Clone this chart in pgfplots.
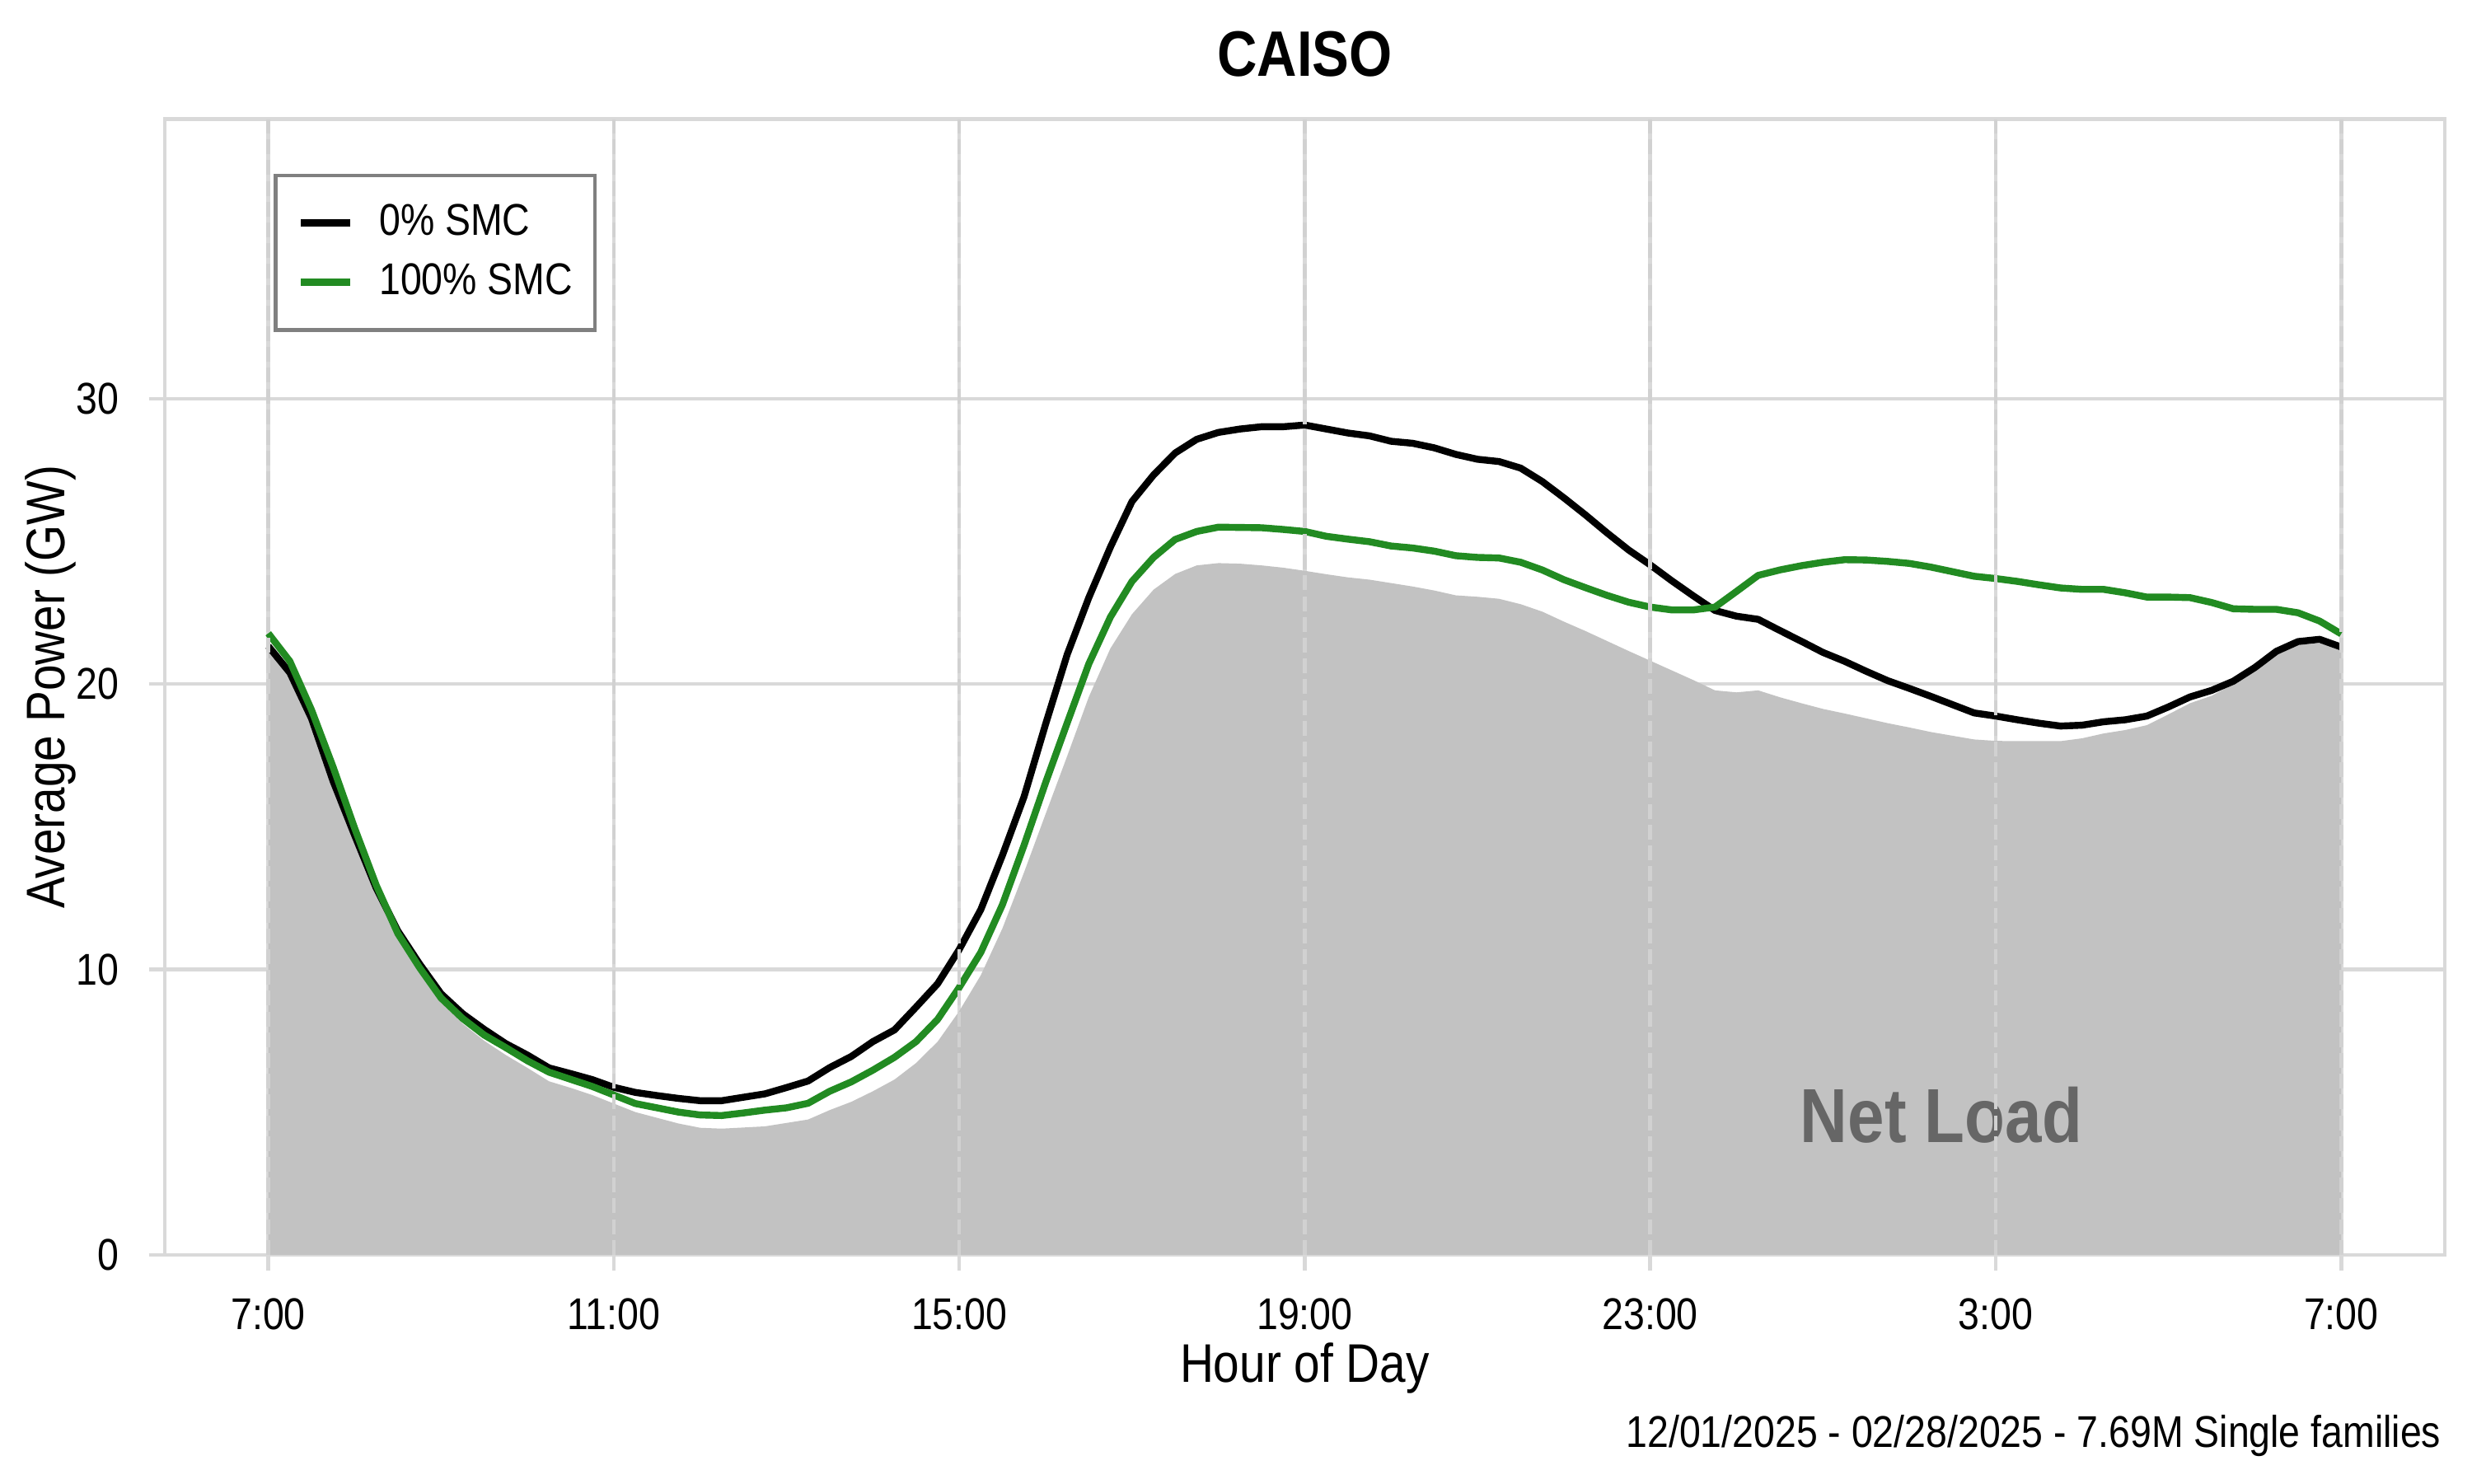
\documentclass[border=0pt]{standalone}
\usepackage{pgfplots}
\pgfplotsset{compat=1.18}
\usepackage{pgfplotstable}
\usepackage{fontspec}
\setmainfont{Liberation Sans}[FakeStretch=0.86]
\definecolor{smcgreen}{HTML}{228B22}
\definecolor{gridgray}{HTML}{D9D9D9}
\definecolor{fillgray}{HTML}{C2C2C2}
\definecolor{labelgray}{HTML}{666666}

\pgfplotstableread{
h v
0 21.2
0.25 20.3
0.5 18.7
0.75 16.6
1.0 14.6
1.25 12.7
1.5 11.1
1.75 9.9
2.0 8.85
2.25 8.1
2.5 7.5
2.75 7.0
3.0 6.55
3.25 6.08
3.5 5.85
3.75 5.6
4.0 5.3
4.25 5.0
4.5 4.8
4.75 4.6
5.0 4.45
5.25 4.42
5.5 4.46
5.75 4.5
6.0 4.62
6.25 4.74
6.5 5.07
6.75 5.36
7.0 5.73
7.25 6.14
7.5 6.72
7.75 7.47
8.0 8.54
8.25 9.8
8.5 11.44
8.75 13.4
9.0 15.45
9.25 17.48
9.5 19.55
9.75 21.25
10.0 22.45
10.25 23.31
10.5 23.86
10.75 24.16
11.0 24.24
11.25 24.22
11.5 24.16
11.75 24.08
12.0 23.97
12.25 23.85
12.5 23.74
12.75 23.66
13.0 23.54
13.25 23.42
13.5 23.28
13.75 23.11
14.0 23.06
14.25 22.99
14.5 22.8
14.75 22.54
15.0 22.19
15.25 21.86
15.5 21.51
15.75 21.16
16.0 20.82
16.25 20.48
16.5 20.14
16.75 19.78
17.0 19.71
17.25 19.78
17.5 19.54
17.75 19.33
18.0 19.13
18.25 18.97
18.5 18.8
18.75 18.63
19.0 18.48
19.25 18.32
19.5 18.19
19.75 18.06
20.0 18.01
20.25 18.0
20.5 18.0
20.75 18.0
21.0 18.1
21.25 18.27
21.5 18.39
21.75 18.56
22.0 18.94
22.25 19.33
22.5 19.59
22.75 20.0
23.0 20.53
23.25 21.06
23.5 21.37
23.75 21.44
24.0 21.2
}\netload

\pgfplotstableread{
h v
0 21.33
0.25 20.4
0.5 18.8
0.75 16.6
1.0 14.7
1.25 12.85
1.5 11.35
1.75 10.2
2.0 9.15
2.25 8.45
2.5 7.9
2.75 7.4
3.0 7.0
3.25 6.55
3.5 6.35
3.75 6.14
4.0 5.87
4.25 5.69
4.5 5.58
4.75 5.48
5.0 5.4
5.25 5.4
5.5 5.52
5.75 5.64
6.0 5.86
6.25 6.09
6.5 6.56
6.75 6.95
7.0 7.47
7.25 7.88
7.5 8.68
7.75 9.5
8.0 10.7
8.25 12.1
8.5 14.0
8.75 16.05
9.0 18.6
9.25 21.04
9.5 23.03
9.75 24.8
10.0 26.4
10.25 27.33
10.5 28.1
10.75 28.58
11.0 28.82
11.25 28.94
11.5 29.02
11.75 29.02
12.0 29.08
12.25 28.94
12.5 28.8
12.75 28.7
13.0 28.51
13.25 28.44
13.5 28.28
13.75 28.05
14.0 27.88
14.25 27.8
14.5 27.57
14.75 27.1
15.0 26.53
15.25 25.93
15.5 25.3
15.75 24.7
16.0 24.18
16.25 23.62
16.5 23.09
16.75 22.58
17.0 22.38
17.25 22.27
17.5 21.88
17.75 21.5
18.0 21.11
18.25 20.8
18.5 20.45
18.75 20.12
19.0 19.85
19.25 19.57
19.5 19.28
19.75 18.99
20.0 18.88
20.25 18.75
20.5 18.63
20.75 18.53
21.0 18.56
21.25 18.68
21.5 18.75
21.75 18.88
22.0 19.2
22.25 19.55
22.5 19.78
22.75 20.1
23.0 20.58
23.25 21.15
23.5 21.49
23.75 21.57
24.0 21.3
}\smczero

\pgfplotstableread{
h v
0 21.78
0.25 20.8
0.5 19.1
0.75 17.1
1.0 14.95
1.25 12.95
1.5 11.26
1.75 10.07
2.0 9.0
2.25 8.28
2.5 7.7
2.75 7.26
3.0 6.8
3.25 6.4
3.5 6.15
3.75 5.9
4.0 5.6
4.25 5.3
4.5 5.15
4.75 5.0
5.0 4.9
5.25 4.88
5.5 4.97
5.75 5.07
6.0 5.15
6.25 5.31
6.5 5.73
6.75 6.06
7.0 6.47
7.25 6.92
7.5 7.47
7.75 8.25
8.0 9.37
8.25 10.6
8.5 12.27
8.75 14.35
9.0 16.55
9.25 18.64
9.5 20.71
9.75 22.35
10.0 23.6
10.25 24.44
10.5 25.07
10.75 25.35
11.0 25.5
11.25 25.49
11.5 25.48
11.75 25.42
12.0 25.35
12.25 25.18
12.5 25.08
12.75 24.99
13.0 24.84
13.25 24.77
13.5 24.66
13.75 24.5
14.0 24.44
14.25 24.42
14.5 24.27
14.75 24.0
15.0 23.66
15.25 23.38
15.5 23.11
15.75 22.87
16.0 22.7
16.25 22.6
16.5 22.6
16.75 22.7
17.0 23.25
17.25 23.81
17.5 24.0
17.75 24.15
18.0 24.27
18.25 24.36
18.5 24.35
18.75 24.3
19.0 24.23
19.25 24.1
19.5 23.94
19.75 23.78
20.0 23.7
20.25 23.6
20.5 23.48
20.75 23.37
21.0 23.32
21.25 23.32
21.5 23.2
21.75 23.05
22.0 23.05
22.25 23.03
22.5 22.86
22.75 22.64
23.0 22.62
23.25 22.62
23.5 22.5
23.75 22.21
24.0 21.76
}\smcfull

\begin{document}
\begin{tikzpicture}
\path[use as bounding box] (0,0) rectangle (500pt,300pt);
\begin{axis}[
  at={(33.3pt,46.2pt)}, anchor=south west,
  scale only axis, width=461.2pt, height=229.7pt,
  xmin=-1.2, xmax=25.2, ymin=0, ymax=39.8,
  xtick={0,4,...,24},
  xticklabels={\mbox{7:00},\mbox{11:00},\mbox{15:00},\mbox{19:00},\mbox{23:00},\mbox{3:00},\mbox{7:00}},
  ytick={0,10,20,30},
  tick pos=left, tick align=outside, major tick length=3.2pt,
  tick style={gridgray, line width=0.75pt},
  axis line style={gridgray, line width=0.75pt},
  grid=major, grid style={gridgray, line width=0.75pt},
  ticklabel style={font=\fontsize{9}{10}\selectfont, text=black},
  xticklabel style={inner sep=0pt, anchor=north, yshift=-5.5pt},
  yticklabel style={inner sep=0pt, anchor=east, xshift=-5.9pt},
  /pgf/number format/assume math mode=true,
  legend style={at={(0,1)}, anchor=north west, xshift=22.0pt, yshift=-11pt,
    draw=black!50, line width=0.8pt, fill=white,
    font=\fontsize{9}{10}\selectfont,
    inner xsep=4.5pt, inner ysep=5.6pt, row sep=4pt, column sep=5.1pt,
    nodes={inner sep=0pt, text height=6.5pt, text depth=1.5pt},
    cells={anchor=west}},
  legend image code/.code={\draw[#1, line width=1.4pt] (0pt,0pt) -- (10pt,0pt);},
]
\addplot[draw=none, fill=fillgray, forget plot] table[x=h, y=v] {\netload} \closedcycle;
\addplot[black, line width=1.4pt, line join=round] table[x=h, y=v] {\smczero};
\addlegendentry{0\% SMC}
\addplot[smcgreen, line width=1.4pt, line join=round] table[x=h, y=v] {\smcfull};
\addlegendentry{100\% SMC}
\node[anchor=base, inner sep=0pt, text=labelgray, font=\fontsize{15.5}{17}\bfseries] at (axis cs:19.37,3.95) {Net Load};
\pgfplotsinvokeforeach{0,4,8,12,16,20,24}{
  \draw[black!18, line width=0.75pt, dash pattern=on 3pt off 1.2pt] (axis cs:#1,0) -- (axis cs:#1,39.8);
}
\end{axis}
\node[anchor=base, inner sep=0pt, font=\fontsize{13}{15}\selectfont\bfseries] at (263.9pt,284.6pt) {CAISO};
\node[anchor=base, inner sep=0pt, font=\fontsize{11}{13}\selectfont] at (263.9pt,20.5pt) {Hour of Day};
\node[anchor=base, rotate=90, inner sep=0pt, font=\fontsize{11}{13}\selectfont] at (13.1pt,161.05pt) {Average Power (GW)};
\node[anchor=base east, inner sep=0pt, font=\fontsize{9}{10}\selectfont] at (493.9pt,7.2pt) {12/01/2025 - 02/28/2025 - 7.69M Single families};
\end{tikzpicture}
\end{document}
